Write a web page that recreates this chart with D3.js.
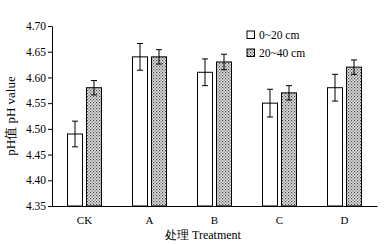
<!DOCTYPE html>
<html><head><meta charset="utf-8">
<script src="https://cdn.jsdelivr.net/npm/d3@7"></script>
<style>body{margin:0;background:#fff}svg{display:block}</style>
</head><body>
<script>
const categories = ["CK","A","B","C","D"];
const series = ["0~20 cm","20~40 cm"];
const values0_20 = [4.49,4.64,4.61,4.55,4.58];
const errors0_20 = [0.025,0.026,0.026,0.027,0.026];
const values20_40 = [4.58,4.64,4.63,4.57,4.62];
const errors20_40 = [0.014,0.014,0.015,0.014,0.014];
const yTicks = [4.35,4.40,4.45,4.50,4.55,4.60,4.65,4.70];

const W=390,H=244;
const svg=d3.select("body").append("svg").attr("width",W).attr("height",H);
const defs=svg.append("defs");
const pat=defs.append("pattern").attr("id","dots").attr("width",3).attr("height",3).attr("patternUnits","userSpaceOnUse");
pat.append("rect").attr("width",3).attr("height",3).attr("fill","#e0e0e0");
pat.append("rect").attr("x",0).attr("y",0).attr("width",1.2).attr("height",1.2).attr("fill","#444");
pat.append("rect").attr("x",1.5).attr("y",1.5).attr("width",1.2).attr("height",1.2).attr("fill","#666");

const m={l:52,r:13,t:26,b:38};
const x=d3.scaleBand().domain(categories).range([m.l,W-m.r]);
const y=d3.scaleLinear().domain([4.35,4.70]).range([H-m.b,m.t]);
const bw=15, gap=4;
const font="'Liberation Serif','Times New Roman',serif";

const data=[];
categories.forEach((c,i)=>{
  data.push({c,s:0,v:values0_20[i],e:errors0_20[i]});
  data.push({c,s:1,v:values20_40[i],e:errors20_40[i]});
});
const bx=d=>x(d.c)+x.bandwidth()/2+(d.s===0?-(bw+gap/2):gap/2);

svg.selectAll("rect.bar").data(data).enter().append("rect").attr("class","bar")
  .attr("x",bx).attr("width",bw)
  .attr("y",d=>y(d.v)).attr("height",d=>y(4.35)-y(d.v))
  .attr("fill",d=>d.s===0?"#fff":"url(#dots)")
  .attr("stroke","#000").attr("stroke-width",1);

const eb=svg.selectAll("g.err").data(data).enter().append("g").attr("stroke","#000").attr("stroke-width",1);
eb.append("line").attr("x1",d=>bx(d)+bw/2).attr("x2",d=>bx(d)+bw/2).attr("y1",d=>y(d.v+d.e)).attr("y2",d=>y(d.v-d.e));
eb.append("line").attr("x1",d=>bx(d)+bw/2-3).attr("x2",d=>bx(d)+bw/2+3).attr("y1",d=>y(d.v+d.e)).attr("y2",d=>y(d.v+d.e));
eb.append("line").attr("x1",d=>bx(d)+bw/2-3).attr("x2",d=>bx(d)+bw/2+3).attr("y1",d=>y(d.v-d.e)).attr("y2",d=>y(d.v-d.e));

const ya=svg.append("g").attr("transform",`translate(${m.l},0)`)
  .call(d3.axisLeft(y).tickValues(yTicks).tickFormat(d3.format(".2f")).tickSize(4).tickSizeOuter(0));
ya.selectAll("text").attr("font-family",font).attr("font-size",11.5).attr("fill","#000").attr("x",-6);
ya.selectAll("line,path").attr("stroke","#000");

const xa=svg.append("g").attr("transform",`translate(0,${H-m.b})`)
  .call(d3.axisBottom(x).tickSize(0).tickSizeOuter(0));
xa.selectAll("text").attr("font-family",font).attr("font-size",11).attr("fill","#000").attr("dy","0.71em").attr("y",10);
xa.select("path").attr("stroke","#000");

svg.append("text").attr("x",203).attr("y",239).attr("text-anchor","middle")
  .attr("font-family",font).attr("font-size",12).text("处理 Treatment");
svg.append("text").attr("transform","translate(15,116) rotate(-90)").attr("text-anchor","middle")
  .attr("font-family",font).attr("font-size",13).text("pH值 pH value");

const lg=svg.append("g").selectAll("g").data(series).enter().append("g")
  .attr("transform",(d,i)=>`translate(247,${31+i*18})`);
lg.append("rect").attr("width",7.5).attr("height",7.5).attr("stroke","#000")
  .attr("fill",(d,i)=>i===0?"#fff":"url(#dots)");
lg.append("text").attr("x",12).attr("y",8).attr("font-family",font).attr("font-size",11.5).text(d=>d);
</script>
</body></html>
